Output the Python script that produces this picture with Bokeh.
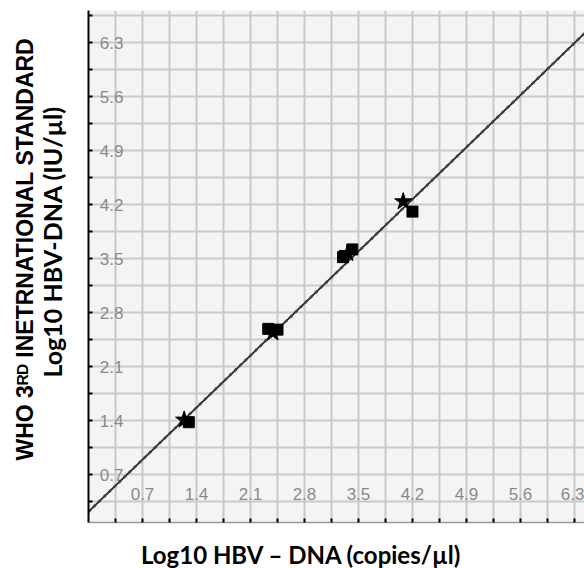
from bokeh.plotting import figure
from bokeh.layouts import column
from bokeh.models import FixedTicker, Range1d, Title, Label
from bokeh.embed import file_html
from bokeh.resources import INLINE

# ---- data ----
major_ticks = [0.7, 1.4, 2.1, 2.8, 3.5, 4.2, 4.9, 5.6, 6.3]
tick_labels = ["0.7", "1.4", "2.1", "2.8", "3.5", "4.2", "4.9", "5.6", "6.3"]
minor_ticks = [0.35, 1.05, 1.75, 2.45, 3.15, 3.85, 4.55, 5.25, 5.95, 6.65]

# replicate measurements (squares and stars)
sq_x = [1.30, 2.33, 2.45, 3.42, 3.30, 4.20]
sq_y = [1.38, 2.59, 2.58, 3.62, 3.52, 4.11]
st_x = [1.24, 2.39, 3.36, 4.08]
st_y = [1.41, 2.54, 3.57, 4.24]

# regression line end points
fit_x = [0.0, 6.45]
fit_y = [0.22, 6.44]

x_title = "Log10 HBV \u2013 DNA (copies/\u00b5l)"
y_title_1 = "WHO 3\u1d3f\u1d30 INETRNATIONAL STANDARD"
y_title_2 = "Log10 HBV-DNA (IU/\u00b5l)"

p = figure(width=584, height=530,
           x_range=Range1d(0, 6.43), y_range=Range1d(0.08, 6.717),
           output_backend="svg", toolbar_location=None,
           min_border_left=88, min_border_right=0, min_border_top=10,
           min_border_bottom=8,
           background_fill_color="#f4f4f4", border_fill_color="white")
p.outline_line_color = None

ticker = FixedTicker(ticks=major_ticks, minor_ticks=minor_ticks)
overrides = dict(zip(major_ticks, tick_labels))
for ax in (p.xaxis[0], p.yaxis[0]):
    ax.ticker = ticker
    ax.major_label_overrides = overrides
    ax.major_tick_in = 4
    ax.major_tick_out = 0
    ax.minor_tick_in = 4
    ax.minor_tick_out = 0
    ax.major_tick_line_color = "black"
    ax.minor_tick_line_color = "black"
    ax.major_tick_line_width = 2
    ax.minor_tick_line_width = 2
    ax.major_label_text_font = "Liberation Sans"
    ax.major_label_text_font_size = "17px"
    ax.major_label_text_color = "#8a8a8a"

p.yaxis.axis_line_color = "black"
p.yaxis.axis_line_width = 2
p.yaxis.major_label_standoff = -35
p.xaxis.axis_line_color = "#9a9a9a"
p.xaxis.axis_line_width = 1.5
p.xaxis.major_label_standoff = -35

for g in (p.xgrid[0], p.ygrid[0]):
    g.grid_line_color = "#c9c9c9"
    g.grid_line_width = 2
    g.minor_grid_line_color = "#c9c9c9"
    g.minor_grid_line_width = 2

p.line(fit_x, fit_y, line_color="#2a2a2a", line_width=1.8)
p.line(fit_x, fit_y, line_color="#444444", line_width=2.6, line_dash="3 4")

p.scatter(sq_x, sq_y, marker="square", size=11, color="black")
p.scatter(st_x, st_y, marker="star", size=18, color="black")

t_inner = Title(text=y_title_2, text_font="Lato", text_font_style="bold",
                text_font_size="25px", align="left", offset=145,
                standoff=43, text_color="black")
t_outer = Title(text=y_title_1, text_font="Liberation Sans", text_font_style="bold",
                text_font_size="23px", align="left", offset=62,
                standoff=-48, text_color="black")
p.add_layout(t_inner, "left")
p.add_layout(t_outer, "left")

# strip below the chart holding the x-axis title (its frame aligns with the chart's)
p2 = figure(width=584, height=38, output_backend="svg", toolbar_location=None,
            x_axis_type=None, y_axis_type=None,
            x_range=Range1d(0, 1), y_range=Range1d(0, 1),
            min_border=0, background_fill_color="white", border_fill_color="white")
p2.outline_line_color = None
p2.grid.visible = False
x_lab = Label(x=213, y=14, x_units="screen", y_units="screen", text=x_title,
              text_font="Lato", text_font_style="bold", text_font_size="24px",
              text_align="center", text_baseline="middle", text_color="black")
p2.add_layout(x_lab)

layout = column(p, p2, spacing=0)
open("out.html", "w").write(file_html(layout, INLINE))
